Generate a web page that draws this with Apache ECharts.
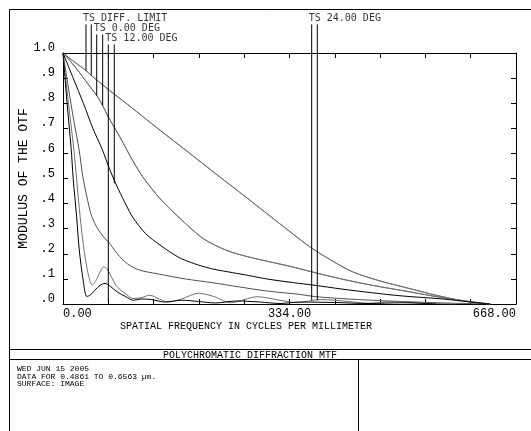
<!DOCTYPE html>
<html>
<head>
<meta charset="utf-8">
<script src="https://cdn.jsdelivr.net/npm/echarts@6/dist/echarts.min.js"></script>
<style>
html,body{margin:0;padding:0;background:#fff;}
#c{width:531px;height:431px;}
</style>
</head>
<body>
<div id="c"></div>
<script>
// ---- data ----
// Diffraction limit (T and S coincide)
const freqDiff = [0, 15, 34, 42, 69, 100, 138, 187, 227, 260, 290, 305, 330, 349, 367, 395, 428, 470, 512, 550, 585, 612, 630];
const mtfDiff  = [1, 0.968, 0.93, 0.91, 0.85, 0.785, 0.703, 0.60, 0.515, 0.446, 0.383, 0.351, 0.298, 0.258, 0.222, 0.175, 0.127, 0.09, 0.061, 0.035, 0.015, 0.004, 0];
// 0.00 deg (T and S coincide)
const freq0 = [0, 10, 25, 40, 50, 58.5, 67, 85, 102, 118, 143, 165, 183, 207, 240, 270, 305, 335, 367, 410, 455, 512, 560, 605, 630];
const mtf0  = [1, 0.97, 0.92, 0.865, 0.83, 0.79, 0.745, 0.66, 0.575, 0.505, 0.42, 0.36, 0.315, 0.26, 0.215, 0.19, 0.168, 0.15, 0.128, 0.1, 0.075, 0.048, 0.025, 0.008, 0];
// 12.00 deg S
const freq12S = [0, 15, 30, 44, 58, 69, 77, 82, 93, 103, 122, 143, 162, 175, 200, 220, 250, 275, 300, 340, 370, 410, 455, 500, 560, 600, 630];
const mtf12S  = [1, 0.9, 0.8, 0.7, 0.615, 0.535, 0.485, 0.455, 0.395, 0.345, 0.28, 0.235, 0.2, 0.18, 0.155, 0.14, 0.125, 0.113, 0.1, 0.085, 0.075, 0.06, 0.045, 0.032, 0.02, 0.008, 0];
// 12.00 deg T
const freq12T = [0, 8, 16, 24, 28.5, 33, 40, 43, 50, 62, 67, 80, 95, 113, 140, 180, 220, 260, 300, 350, 370, 420, 480, 540, 620];
const mtf12T  = [1, 0.86, 0.73, 0.61, 0.52, 0.455, 0.37, 0.345, 0.305, 0.26, 0.248, 0.2, 0.16, 0.135, 0.12, 0.1, 0.085, 0.068, 0.052, 0.038, 0.03, 0.02, 0.012, 0.006, 0];
// 24.00 deg T
const freq24T = [0, 8, 15, 19, 23, 28, 33, 38, 43, 50, 55, 60, 65, 70, 78, 85, 95, 103, 115, 128, 142, 155, 175, 200, 222, 248, 268, 286, 320, 345, 380, 420, 450, 490, 530, 580];
const mtf24T  = [1, 0.8, 0.64, 0.53, 0.41, 0.28, 0.18, 0.11, 0.076, 0.1, 0.13, 0.148, 0.14, 0.115, 0.075, 0.056, 0.035, 0.022, 0.025, 0.035, 0.02, 0.008, 0.02, 0.043, 0.03, 0.005, 0.018, 0.029, 0.015, 0.005, 0.018, 0.01, 0.003, 0.01, 0.004, 0];
// 24.00 deg S
const freq24S = [0, 6, 12, 15, 20, 24, 30, 35, 40, 47, 55, 62, 70, 80, 92, 104, 115, 130, 150, 175, 200, 225, 255, 290, 320, 350, 400, 450, 500, 550];
const mtf24S  = [1, 0.8, 0.62, 0.5, 0.35, 0.215, 0.09, 0.03, 0.035, 0.055, 0.075, 0.082, 0.07, 0.048, 0.03, 0.015, 0.02, 0.018, 0.008, 0.015, 0.01, 0.004, 0.012, 0.008, 0.002, 0.008, 0.006, 0.002, 0.005, 0];

// legend (field label lines)
const legendNames = ['TS DIFF. LIMIT', 'TS 0.00 DEG', 'TS 12.00 DEG', 'TS 24.00 DEG'];
const legendFreqT = [33.9, 49.7, 66.8, 366.7];
const legendFreqS = [41.7, 58.5, 75.6, 375];
const legendTop   = [1.114, 1.074, 1.034, 1.114];
const legendEndT  = [0.93, 0.83, 0.01, 0.015];
const legendEndS  = [0.91, 0.79, 0.48, 0.015];

// axis tick labels
const xLabelValues = [0, 334, 668];
const xTickLabels = ['0.00', '334.00', '668.00'];
const yTickLabels = ['.0', '.1', '.2', '.3', '.4', '.5', '.6', '.7', '.8', '.9', '1.0'];

const GRAY = '#707070';
const zip = (f, m) => f.map((v, i) => [v, m[i]]);

const curves = [
  {name: 'DIFF. LIMIT T', f: freqDiff, m: mtfDiff, c: GRAY},
  {name: 'DIFF. LIMIT S', f: freqDiff, m: mtfDiff, c: GRAY},
  {name: '0.00 DEG T', f: freq0, m: mtf0, c: GRAY},
  {name: '0.00 DEG S', f: freq0, m: mtf0, c: GRAY},
  {name: '12.00 DEG T', f: freq12T, m: mtf12T, c: '#505050'},
  {name: '12.00 DEG S', f: freq12S, m: mtf12S, c: '#000'},
  {name: '24.00 DEG T', f: freq24T, m: mtf24T, c: GRAY},
  {name: '24.00 DEG S', f: freq24S, m: mtf24S, c: '#000'}
];

const series = curves.map(cv => ({
  name: cv.name, type: 'line', data: zip(cv.f, cv.m),
  showSymbol: false, symbol: 'none', smooth: 0.3,
  lineStyle: {color: cv.c, width: 1}, z: 3
}));

legendNames.forEach((n, i) => {
  series.push({type: 'line', data: [[legendFreqT[i], legendTop[i]], [legendFreqT[i], legendEndT[i]]],
    symbol: 'none', clip: false, lineStyle: {color: '#000', width: 1}, z: 4});
  series.push({type: 'line', data: [[legendFreqS[i], legendTop[i]], [legendFreqS[i], legendEndS[i]]],
    symbol: 'none', clip: false, lineStyle: {color: '#000', width: 1}, z: 4});
});

series.push({
  type: 'scatter', clip: false, symbolSize: 0, z: 5,
  data: legendNames.map((n, i) => [legendFreqT[i], legendTop[i], n]),
  label: {show: true, position: 'top', distance: 1, align: 'left', offset: [-3, 0],
    formatter: p => p.data[2], color: '#000', fontSize: 10, fontFamily: 'DejaVu Sans Mono'}
});

const FONT = '"Liberation Mono", "DejaVu Sans Mono", monospace';

const xAxisBase = {
  type: 'value', min: 0, max: 668, interval: 66.8,
  axisLine: {show: true, onZero: false, lineStyle: {color: '#000', width: 1}},
  axisTick: {show: true, inside: true, length: 5, lineStyle: {color: '#000'}},
  splitLine: {show: false}
};
const yAxisBase = {
  type: 'value', min: 0, max: 1, interval: 0.1,
  axisLine: {show: true, onZero: false, lineStyle: {color: '#000', width: 1}},
  axisTick: {show: true, inside: true, length: 5, lineStyle: {color: '#000'}},
  splitLine: {show: false}
};

const option = {
  animation: false,
  backgroundColor: '#fff',
  grid: {left: 63, top: 53, right: 15, bottom: 127, show: false},
  xAxis: [
    Object.assign({}, xAxisBase, {
      position: 'bottom',
      name: 'SPATIAL FREQUENCY IN CYCLES PER MILLIMETER',
      nameLocation: 'middle', nameGap: 17, nameMoveOverlap: false,
      nameTextStyle: {color: '#000', fontSize: 10, fontFamily: FONT, padding: [0, 87, 0, 0]},
      axisLabel: {
        show: true, margin: 4, color: '#000', fontSize: 12, fontFamily: FONT,
        showMinLabel: true, showMaxLabel: true, alignMinLabel: 'left', alignMaxLabel: 'right',
        formatter: v => { const i = xLabelValues.findIndex(t => Math.abs(t - v) < 0.01); return i >= 0 ? xTickLabels[i] : ''; }
      }
    }),
    Object.assign({}, xAxisBase, {position: 'top', axisLabel: {show: false}})
  ],
  yAxis: [
    Object.assign({}, yAxisBase, {
      position: 'left',
      name: 'MODULUS OF THE OTF',
      nameLocation: 'middle', nameGap: 33, nameMoveOverlap: false,
      nameTextStyle: {color: '#000', fontSize: 13, fontFamily: FONT},
      axisLabel: {
        show: true, margin: 8, color: '#000', fontSize: 12, fontFamily: FONT,
        verticalAlign: 'bottom', lineHeight: 10,
        formatter: v => yTickLabels[Math.round(v * 10)]
      }
    }),
    Object.assign({}, yAxisBase, {position: 'right', axisLabel: {show: false}})
  ],
  graphic: [
    {type: 'line', shape: {x1: 9.5, y1: 9.5, x2: 531, y2: 9.5}, style: {stroke: '#000', lineWidth: 1}},
    {type: 'line', shape: {x1: 9.5, y1: 9.5, x2: 9.5, y2: 431}, style: {stroke: '#000', lineWidth: 1}},
    {type: 'line', shape: {x1: 9.5, y1: 349.5, x2: 531, y2: 349.5}, style: {stroke: '#000', lineWidth: 1}},
    {type: 'line', shape: {x1: 9.5, y1: 359.5, x2: 531, y2: 359.5}, style: {stroke: '#000', lineWidth: 1}},
    {type: 'line', shape: {x1: 358.5, y1: 359.5, x2: 358.5, y2: 431}, style: {stroke: '#000', lineWidth: 1}},
    {type: 'text', x: 250, y: 355, style: {text: 'POLYCHROMATIC DIFFRACTION MTF', fill: '#000',
      fontSize: 10, fontFamily: FONT, align: 'center', verticalAlign: 'middle'}},
    {type: 'text', x: 17, y: 365, style: {text: 'WED JUN 15 2005\nDATA FOR 0.4861 TO 0.6563 µm.\nSURFACE: IMAGE', fill: '#000',
      fontSize: 8, lineHeight: 7.7, fontFamily: FONT, align: 'left', verticalAlign: 'top'}}
  ],
  series: series
};

const chart = echarts.init(document.getElementById('c'), null, {renderer: 'canvas'});
chart.setOption(option);
</script>
</body>
</html>
